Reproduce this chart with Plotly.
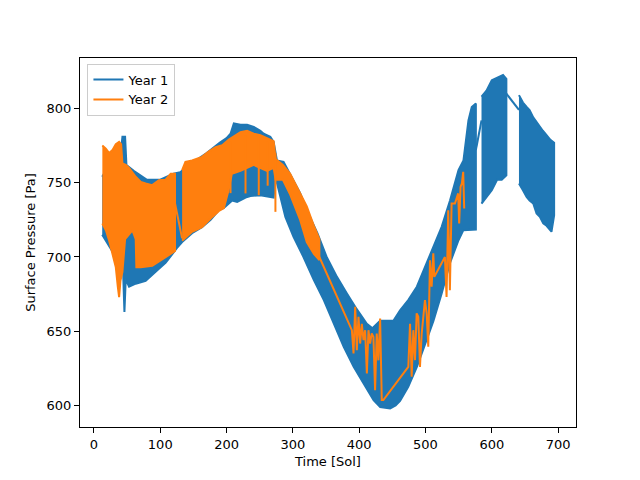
import plotly.graph_objects as go

BLUE = "#1f77b4"
ORANGE = "#ff7f0e"
LW = 2

# ---- Year 1: envelope of the diurnal swing (sol, Pa) ----
y1a_hi_sol = [12.5, 20, 30, 40, 43, 47, 49, 60, 80, 100, 120, 130, 150, 170, 190, 200, 206, 211,
              221, 231, 241, 251, 256, 266, 271, 276, 286, 296, 311, 321, 337, 351, 366.5, 381.5,
              394, 411.6, 420, 431.6, 451.6, 461.7, 474, 487, 499.7, 512, 524.4, 537, 549.8,
              557.3, 564.8, 569.8, 576]
y1a_hi = [754, 760, 765, 768, 781, 781, 762, 758, 752, 752, 756, 757, 764, 770, 777, 780, 783, 790,
          789, 789, 787.6, 785, 783, 781, 777.5, 765, 764, 756, 743, 731.5, 716, 700, 686.6, 675.4,
          666.4, 655, 652, 657, 657, 664, 671, 680, 693.4, 707, 720.3, 738, 758.5,
          765, 792, 801, 803.4]
y1a_lo_sol = [12.5, 18, 25, 33, 40, 44, 46, 48, 53, 63, 78, 88, 98, 108, 115, 125, 133, 148, 163,
              176, 188.5, 196, 208.5, 216, 228.6, 236, 251, 271, 273.7, 288.7, 301, 316, 331.7,
              346.7, 361.7, 376.7, 391.7, 406.7, 421.7, 431.7, 446.7, 455, 461.7, 474, 487, 499.7,
              512, 524.4, 537, 549.8, 557, 576]
y1a_lo = [715, 711, 706, 700, 693, 690, 663, 685, 680, 682, 684, 688, 692, 696, 700, 706, 710, 716, 720,
          725, 731.5, 733, 738, 737, 740, 741, 741.6, 740, 754, 727, 713.5, 700, 684.4,
          671, 655, 639.5, 626, 614.8, 603.6, 599, 598, 600, 603, 612.5, 626, 641.7,
          657, 675.4, 696, 711.3, 718, 718.5]

y1b_sol = [584.5, 592, 600, 610, 617, 622]
y1b_hi = [808, 812, 819, 821, 822.5, 820]
y1b_lo_sol = [584.5, 592, 600, 608, 615, 622]
y1b_lo = [736, 740, 745, 752, 752, 755]

y1c_sol = [641, 647, 652.5, 657, 662.5, 667, 672.5, 677, 682.6, 688, 694]
y1c_hi = [809, 804, 801, 799, 794, 791, 787.6, 785, 782, 779, 777]
y1c_lo_sol = [641, 647, 652.5, 657, 662.5, 667.5, 672.5, 677.6, 682.6, 690, 694]
y1c_lo = [749.5, 745, 740.5, 738, 736, 729.3, 727, 722.6, 721, 717, 728]

# straight joins across the data gaps
y1_gap_sol = [576, 584.5, None, 622, 641]
y1_gap_pa = [772, 792, None, 810, 799]

# ---- Year 2 ----
y2a_hi_sol = [12.7, 18, 23, 28, 33, 38, 41, 43, 48, 53, 63, 70.7, 78, 88, 98, 108, 115.8, 122.3]
y2a_hi = [775, 773, 770, 772, 776, 777.5, 776, 763, 762, 760, 754, 750.6, 749.5, 748.4, 751.7, 752, 756, 756]
y2a_lo_sol = [12.7, 18, 23, 33, 36, 38, 40, 43, 47, 58, 63, 64, 70.7, 88, 98, 108, 115.8, 122.3]
y2a_lo = [722.6, 718, 711, 693, 680, 673, 684, 690, 712, 718, 712, 693, 693, 694, 697, 700, 702, 704]

y2b_hi_sol = [133, 138, 148, 163, 173, 183.5, 193.5, 203.5, 213.5, 221, 231, 241, 251, 261, 271,
              274, 285, 296, 311, 321, 331.7, 340]
y2b_hi = [758.5, 764, 765, 767.4, 771, 774, 775.3, 779, 782, 784, 785, 783, 782, 780, 778,
          766, 762, 756, 743, 734, 721, 712]
y2b_lo_sol = [133, 148, 163, 178.5, 188.5, 196, 203, 208, 221, 231, 241, 251, 261, 271,
              274, 285, 296, 311, 321, 331.7, 340]
y2b_lo = [711, 717, 720, 727, 731, 733, 745, 756, 758, 760, 762, 760, 758, 760,
          752, 752, 742, 725, 710, 702, 698]

y2_gap_sol = [122.3, 133]
y2_gap_pa = [736, 712.5]

# downward spikes inside the Year 2 band
y2_spike_sol = [206, 228.6, 248.6, 262, 273.7]
y2_spike_top = [778, 782, 781, 778, 770]
y2_spike_bot = [743, 742.8, 741.6, 748, 730.4]

# sparse Year 2 samples after sol 340
y2_sparse_sol = [340, 389.0, 391.5, 394.0, 396.5, 399.0, 401.5, 404.0, 406.5, 409.0,
                 411.6, 414.0, 416.5, 419.0, 421.5, 424.0, 426.5, 429.0, 431.6, 434.1,
                 436.5, 474.1, 476.7, 479.2, 481.7, 484.2, 486.7, 489.2, 491.7, 494.3,
                 499.2, 501.8, 504.2, 506.8, 509.3, 511.8, 513.3, 527.0, 529.3, 531.8,
                 534.3, 536.8, 539.4, 544.4, 549.3, 550.8, 552.9, 554.9, 556.9, 558.4]
y2_sparse_pa = [700, 650.7, 635, 666.4, 637.2, 659.7, 641.7, 655, 644, 650.7,
                621.5, 650.7, 641.7, 648.5, 646.2, 610.3, 648.5, 630.4, 658.6, 603.6,
                603.6, 626, 655, 619.3, 650.7, 630.5, 662, 659.7, 626, 648.5,
                671, 662, 639.5, 697.8, 680, 702.4, 686.6, 697.8, 700, 673,
                731.5, 677.6, 736, 736, 742.8, 722.6, 747.2, 749.5, 757.3, 732.7]


def band(hi_sol, hi, lo_sol, lo):
    return list(hi_sol) + list(lo_sol)[::-1], list(hi) + list(lo)[::-1]


def join(*parts):
    xs, ys = [], []
    for x, y in parts:
        if xs:
            xs.append(None)
            ys.append(None)
        xs += x
        ys += y
    return xs, ys


def spikes(sol, top, bot):
    xs, ys = [], []
    for s, t, b in zip(sol, top, bot):
        xs += [s, s, None]
        ys += [t, b, None]
    return xs, ys


fig = go.Figure()

bx, by = join(band(y1a_hi_sol, y1a_hi, y1a_lo_sol, y1a_lo),
              band(y1b_sol, y1b_hi, y1b_lo_sol, y1b_lo),
              band(y1c_sol, y1c_hi, y1c_lo_sol, y1c_lo))
fig.add_trace(go.Scatter(x=bx, y=by, mode="lines", fill="toself", fillcolor=BLUE,
                         line=dict(color=BLUE, width=LW), showlegend=False, hoverinfo="skip"))
fig.add_trace(go.Scatter(x=y1_gap_sol, y=y1_gap_pa, mode="lines",
                         line=dict(color=BLUE, width=LW), showlegend=False, hoverinfo="skip"))

ox, oy = join(band(y2a_hi_sol, y2a_hi, y2a_lo_sol, y2a_lo),
              band(y2b_hi_sol, y2b_hi, y2b_lo_sol, y2b_lo))
fig.add_trace(go.Scatter(x=ox, y=oy, mode="lines", fill="toself", fillcolor=ORANGE,
                         line=dict(color=ORANGE, width=LW), showlegend=False, hoverinfo="skip"))
sx, sy = spikes(y2_spike_sol, y2_spike_top, y2_spike_bot)
fig.add_trace(go.Scatter(x=sx + y2_gap_sol + [None] + y2_sparse_sol,
                         y=sy + y2_gap_pa + [None] + y2_sparse_pa, mode="lines",
                         line=dict(color=ORANGE, width=LW), showlegend=False, hoverinfo="skip"))

# legend entries
fig.add_trace(go.Scatter(x=[None], y=[None], mode="lines", name="Year 1", line=dict(color=BLUE, width=LW)))
fig.add_trace(go.Scatter(x=[None], y=[None], mode="lines", name="Year 2", line=dict(color=ORANGE, width=LW)))

axis = dict(showline=True, linecolor="black", linewidth=1, mirror=True, ticks="outside",
            ticklen=5, tickcolor="black", showgrid=False, zeroline=False,
            tickfont=dict(size=13, color="black"))

# the page body adds an 8px offset, so margins are trimmed to keep the axes box in place
fig.update_layout(
    width=640, height=480,
    paper_bgcolor="white", plot_bgcolor="white",
    font=dict(family="DejaVu Sans", size=13, color="black"),
    margin=dict(l=72, r=72, t=50, b=61),
    showlegend=True,
    legend=dict(x=0.015, y=0.985, xanchor="left", yanchor="top", bgcolor="rgba(255,255,255,0.8)",
                bordercolor="#cccccc", borderwidth=1, font=dict(size=13), tracegroupgap=0),
    xaxis=dict(axis, range=[-21, 727], dtick=100, tick0=0,
               title=dict(text="Time [Sol]", standoff=6, font=dict(size=13))),
    yaxis=dict(axis, range=[585.5, 834], dtick=50, tick0=600,
               title=dict(text="Surface Pressure [Pa]", standoff=8, font=dict(size=13))),
)

fig.write_html("out.html")
